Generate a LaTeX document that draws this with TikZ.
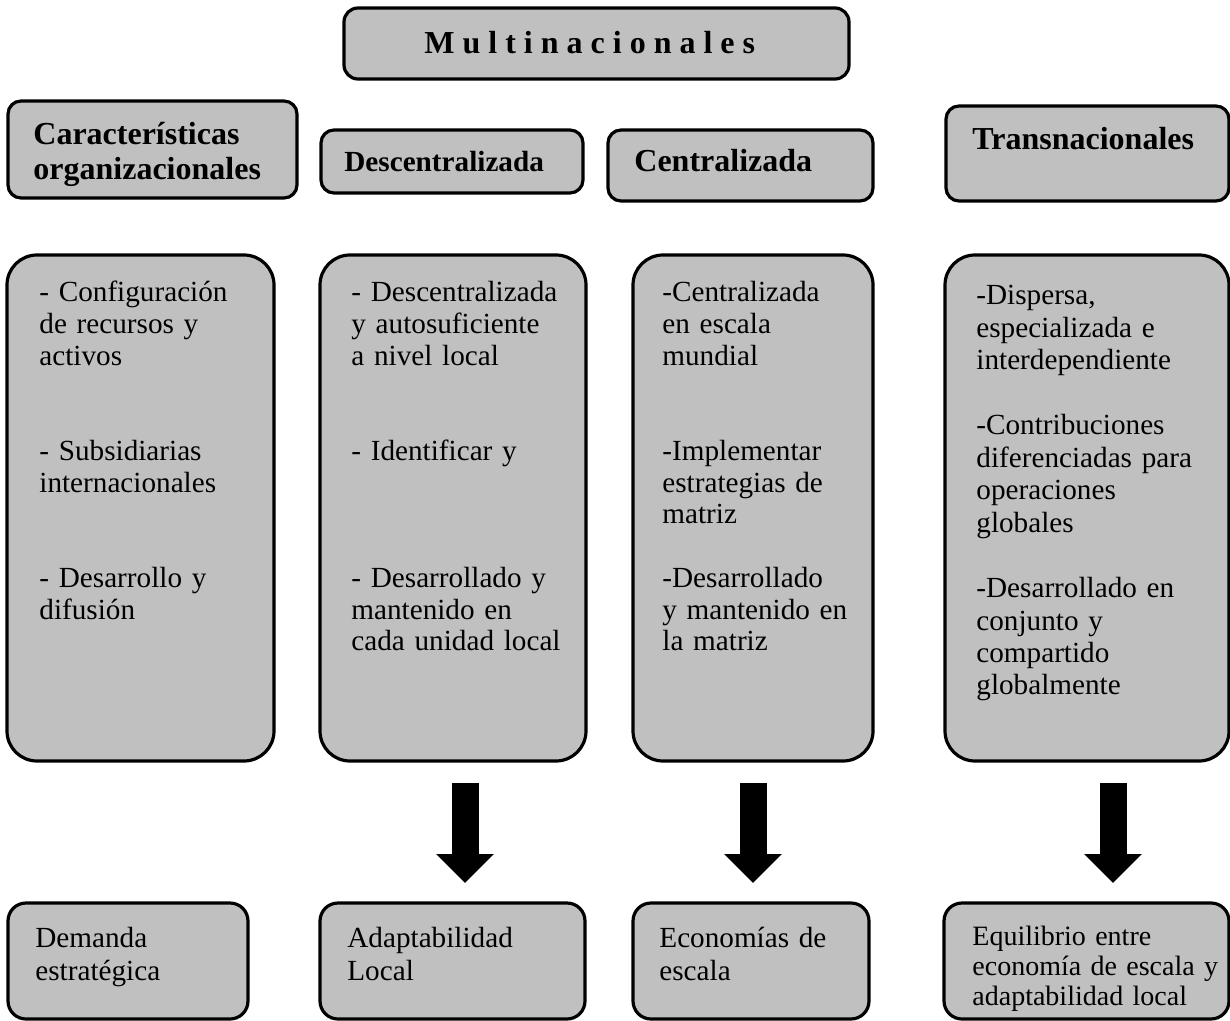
\documentclass[tikz,border=0pt]{standalone}
\usepackage{fontspec}
\setmainfont{Liberation Serif}
\usetikzlibrary{fit}
\usetikzlibrary{arrows.meta}

\definecolor{cajagris}{HTML}{C0C0C0}

\begin{document}
\begin{tikzpicture}[x=0.5pt,y=-0.5pt,
  caja/.style={draw, line width=1.6pt, fill=cajagris, inner sep=0pt},
  titulo/.style={anchor=base west, inner sep=0pt, align=left,
    font=\fontsize{16}{17.5}\selectfont\bfseries},
  texto/.style={anchor=base west, inner sep=0pt, text width=#1, align=left,
    font=\fontsize{14.6}{15.85}\selectfont},
  texto/.default=130pt,
  flecha/.style={line width=13.5pt, -{Triangle[length=14.5pt,width=28pt]}}]
\useasboundingbox (0,0) rectangle (1230,1021);

% encabezado
\node[caja, rounded corners=7pt, fit={(344,8) (849,79)}] (multi) {};
\node[titulo] (multitxt) at (424,54) {M u l t i n a c i o n a l e s};

% fila de titulos
\node[caja, rounded corners=6.5pt, fit={(8,101) (297,198)}] (carac) {};
\node[titulo, text width=140pt] (caractxt) at (33,145) {Características\\organizacionales};
\node[caja, rounded corners=6.5pt, fit={(321,130) (583,193)}] (desc) {};
\node[titulo, font=\fontsize{14.6}{16}\selectfont\bfseries] (desctxt) at (344,172) {Descentralizada};
\node[caja, rounded corners=6.5pt, fit={(608,130) (873,201)}] (cent) {};
\node[titulo] (centtxt) at (634,172) {Centralizada};
\node[caja, rounded corners=6.5pt, fit={(946,106) (1229,201)}] (trans) {};
\node[titulo] (transtxt) at (972,150) {Transnacionales};

% columnas
\node[caja, rounded corners=15pt, fit={(7,255) (274,761)}] (col1) {};
\node[texto] (col1txt) at (39,302) {- Configuración\\de recursos y\\activos\\[2\baselineskip]- Subsidiarias\\internacionales\\[2\baselineskip]- Desarrollo y\\difusión};
\node[caja, rounded corners=15pt, fit={(320,255) (586,761)}] (col2) {};
\node[texto] (col2txt) at (351,302) {- Descentralizada\\y autosuficiente\\a nivel local\\[2\baselineskip]- Identificar y\\[3\baselineskip]- Desarrollado y\\mantenido en\\cada unidad local};
\node[caja, rounded corners=15pt, fit={(633,255) (873,761)}] (col3) {};
\node[texto] (col3txt) at (662,302) {-Centralizada\\en escala\\mundial\\[2\baselineskip]-Implementar\\estrategias de\\matriz\\[\baselineskip]-Desarrollado\\y mantenido en\\la matriz};
\node[caja, rounded corners=15pt, fit={(945,255) (1229,761)}] (col4) {};
\node[texto, font=\fontsize{14.6}{16.25}\selectfont] (col4txt) at (976,305) {-Dispersa,\\especializada e\\interdependiente\\[\baselineskip]-Contribuciones\\diferenciadas para\\operaciones\\globales\\[\baselineskip]-Desarrollado en\\conjunto y\\compartido\\globalmente};

% flechas
\foreach \x/\n in {465/1,753/2,1113/3}
{
\coordinate (fa\n) at (\x,783);
\coordinate (fb\n) at (\x,883);
\draw[flecha] (fa\n) -- (fb\n);
}

% resultados
\node[caja, rounded corners=9pt, fit={(8,903) (248,1019)}] (dem) {};
\node[texto, font=\fontsize{14.6}{16.5}\selectfont] (demtxt) at (35,947) {Demanda\\estratégica};
\node[caja, rounded corners=9pt, fit={(320,903) (585,1019)}] (adap) {};
\node[texto, font=\fontsize{14.6}{16.5}\selectfont] (adaptxt) at (347,947) {Adaptabilidad\\Local};
\node[caja, rounded corners=9pt, fit={(633,903) (869,1019)}] (econ) {};
\node[texto, font=\fontsize{14.6}{16.5}\selectfont] (econtxt) at (659,947) {Economías de\\escala};
\node[caja, rounded corners=9pt, fit={(944,903) (1229,1019)}] (equi) {};
\node[texto, font=\fontsize{14}{15}\selectfont] (equitxt) at (972,945) {Equilibrio entre\\economía de escala y\\adaptabilidad local};
\end{tikzpicture}
\end{document}
